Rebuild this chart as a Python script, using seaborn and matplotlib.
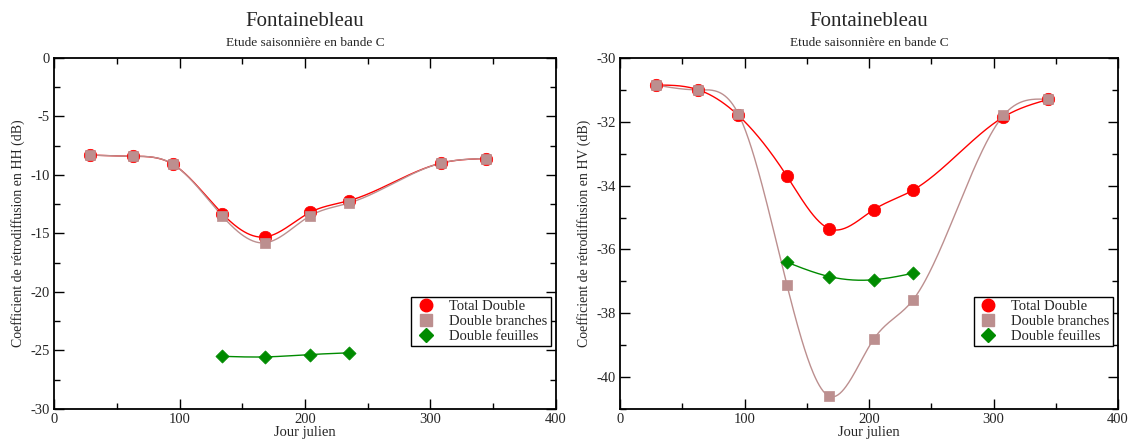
import numpy as np
import pandas as pd
import matplotlib
matplotlib.use("Agg")
import matplotlib.pyplot as plt
import seaborn as sns
from matplotlib.ticker import MultipleLocator
from matplotlib.lines import Line2D

sns.set_theme(style="white")
plt.rcParams['font.family'] = ['Liberation Serif', 'DejaVu Serif']
plt.rcParams['axes.unicode_minus'] = False

# ---- data ----
days = [29, 63, 95, 134, 168, 204, 235, 308, 344]
days_f = [134, 168, 204, 235]

hh_total = [-8.3, -8.4, -9.1, -13.3, -15.3, -13.2, -12.2, -9.0, -8.6]
hh_branches = [-8.3, -8.4, -9.1, -13.5, -15.8, -13.5, -12.4, -9.0, -8.6]
hh_feuilles = [-25.5, -25.55, -25.35, -25.2]

hv_total = [-30.85, -31.0, -31.8, -33.7, -35.35, -34.75, -34.15, -31.85, -31.3]
hv_branches = [-30.85, -31.0, -31.75, -37.1, -40.6, -38.8, -37.6, -31.8, -31.3]
hv_feuilles = [-36.4, -36.85, -36.95, -36.75]

series_names = ["Total Double", "Double branches", "Double feuilles"]
colors = {"Total Double": "#ff0000", "Double branches": "#bc8f8f", "Double feuilles": "#008b00"}
markers = {"Total Double": "o", "Double branches": "s", "Double feuilles": "D"}
msize = {"Total Double": 80, "Double branches": 60, "Double feuilles": 45}


def natural_spline(x, y, n=400):
    x = np.asarray(x, float); y = np.asarray(y, float)
    m = len(x)
    h = np.diff(x)
    A = np.zeros((m, m)); b = np.zeros(m)
    A[0, 0] = 1; A[-1, -1] = 1
    for i in range(1, m - 1):
        A[i, i - 1] = h[i - 1]
        A[i, i] = 2 * (h[i - 1] + h[i])
        A[i, i + 1] = h[i]
        b[i] = 3 * ((y[i + 1] - y[i]) / h[i] - (y[i] - y[i - 1]) / h[i - 1])
    c = np.linalg.solve(A, b)
    xs = np.linspace(x[0], x[-1], n)
    ys = np.empty_like(xs)
    for k, xv in enumerate(xs):
        i = min(np.searchsorted(x, xv, side='right') - 1, m - 2)
        dx = xv - x[i]
        bi = (y[i + 1] - y[i]) / h[i] - h[i] * (2 * c[i] + c[i + 1]) / 3
        di = (c[i + 1] - c[i]) / (3 * h[i])
        ys[k] = y[i] + bi * dx + c[i] * dx ** 2 + di * dx ** 3
    return xs, ys


fig = plt.figure(figsize=(11.37, 4.41), dpi=100)
ax1 = fig.add_axes([0.0475, 0.0726, 0.4415, 0.796])
ax2 = fig.add_axes([0.5453, 0.0726, 0.438, 0.796])

panels = [
    (ax1, [hh_total, hh_branches, hh_feuilles], (-30, 0), 5, 2.5,
     "Coefficient de rétrodiffusion en HH (dB)"),
    (ax2, [hv_total, hv_branches, hv_feuilles], (-41, -30), 2, 1,
     "Coefficient de rétrodiffusion en HV (dB)"),
]

for ax, vals, ylim, ymaj, ymin, ylabel in panels:
    for name, v in zip(series_names, vals):
        xd = days_f if name == "Double feuilles" else days
        xs, ys = natural_spline(xd, v)
        sns.lineplot(x=xs, y=ys, ax=ax, color=colors[name], lw=1.0, zorder=2)
    for name, v in zip(series_names, vals):
        xd = days_f if name == "Double feuilles" else days
        df = pd.DataFrame({"x": xd, "y": v})
        sns.scatterplot(data=df, x="x", y="y", ax=ax, color=colors[name],
                        marker=markers[name], s=msize[name], edgecolor=colors[name],
                        linewidth=0.5, zorder=3)
    ax.set_xlim(0, 400)
    ax.set_ylim(*ylim)
    ax.xaxis.set_major_locator(MultipleLocator(100))
    ax.xaxis.set_minor_locator(MultipleLocator(50))
    ax.yaxis.set_major_locator(MultipleLocator(ymaj))
    ax.yaxis.set_minor_locator(MultipleLocator(ymin))
    ax.tick_params(which='both', direction='in', top=True, right=True,
                   bottom=True, left=True, labelsize=10.5, color='black', pad=3)
    ax.tick_params(which='major', length=7.2, width=1)
    ax.tick_params(which='minor', length=4.3, width=1)
    for sp in ax.spines.values():
        sp.set_color('black'); sp.set_linewidth(1.3)
    ax.set_xlabel("Jour julien", fontsize=10.5, labelpad=0)
    ax.set_ylabel(ylabel, fontsize=10, labelpad=4)
    ax.text(0.5, 1.105, "Fontainebleau", transform=ax.transAxes, ha='center',
            va='center', fontsize=15)
    ax.text(0.5, 1.043, "Etude saisonnière en bande C", transform=ax.transAxes,
            ha='center', va='center', fontsize=9.6)
    handles = [Line2D([], [], ls='none', marker=markers[n], color=colors[n],
                      markersize={"Total Double": 9, "Double branches": 8, "Double feuilles": 7}[n])
               for n in series_names]
    leg = ax.legend(handles, series_names, loc='lower right',
                    bbox_to_anchor=(0.995, 0.17), fontsize=10.5, frameon=True,
                    fancybox=False, edgecolor='black', framealpha=1,
                    borderpad=0.25, labelspacing=0.1, handletextpad=0.8,
                    handlelength=1.5, borderaxespad=0.2)
    leg.get_frame().set_linewidth(1.0)

fig.savefig("out.png", dpi=100)
